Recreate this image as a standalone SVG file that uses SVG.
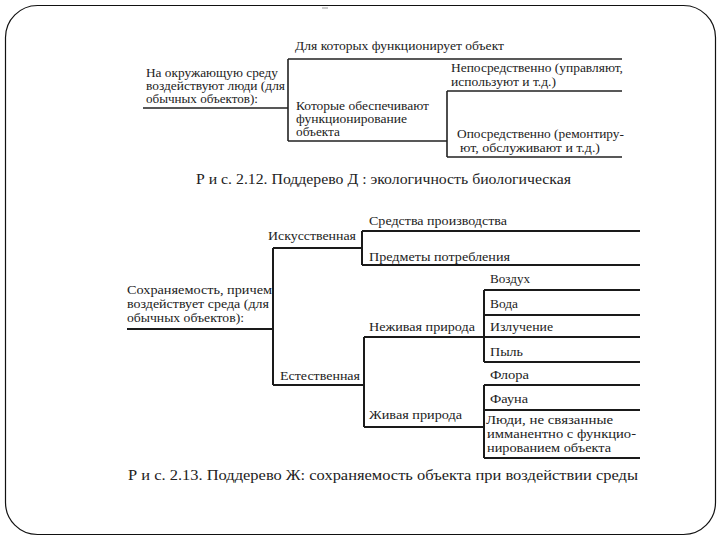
<svg xmlns="http://www.w3.org/2000/svg" width="720" height="540" viewBox="0 0 720 540">
<style>
  text { font-family: "Liberation Serif", "Times New Roman", "DejaVu Serif", serif; fill: #222; }
  .t1 { font-size: 11.5px; }
  .t2 { font-size: 12px; }
  .cap { font-size: 15px; }
  .ln { stroke: #222; stroke-width: 1.6; fill: none; }
  .ln2 { stroke: #1a1a1a; stroke-width: 2; fill: none; }
</style>
<rect x="0" y="0" width="720" height="540" fill="#ffffff"/>
<rect x="5.5" y="5.5" width="710" height="529" rx="32" ry="32" fill="none" stroke="#111" stroke-width="1.2"/>
<line x1="322" y1="8" x2="328" y2="8" stroke="#999" stroke-width="1"/>

<g id="connectors">
  <path class="ln" d="M143,108 H288 M288,59 V141 M288,59 H622 M288,141 H447 M447,91 V157 M447,91 H622 M447,157 H622"/>
  <path class="ln2" d="M127,329 H273 M273,248 V385 M273,248 H362 M273,385 H364 M362,231 V265 M362,231 H640 M362,265 H640 M364,337 V427 M364,337 H484 M364,427 H484 M484,290 V362 M484,290 H640 M484,315 H640 M484,337 H640 M484,362 H640 M484,385 V458 M484,385 H640 M484,410 H640 M484,458 H640"/>
</g>

<g id="node-root1">
  <text class="t1" x="146" y="77" textLength="132" lengthAdjust="spacingAndGlyphs">На окружающую среду</text>
  <text class="t1" x="146" y="90" textLength="139" lengthAdjust="spacingAndGlyphs">воздействуют люди (для</text>
  <text class="t1" x="146" y="103" textLength="112" lengthAdjust="spacingAndGlyphs">обычных объектов):</text>
</g>
<g id="node-dlya">
  <text class="t1" x="295" y="50" textLength="209" lengthAdjust="spacingAndGlyphs">Для которых функционирует объект</text>
</g>
<g id="node-kotorye">
  <text class="t1" x="296" y="110" textLength="133" lengthAdjust="spacingAndGlyphs">Которые обеспечивают</text>
  <text class="t1" x="296" y="123" textLength="111" lengthAdjust="spacingAndGlyphs">функционирование</text>
  <text class="t1" x="296" y="136" textLength="44" lengthAdjust="spacingAndGlyphs">объекта</text>
</g>
<g id="node-neposr">
  <text class="t1" x="451" y="72" textLength="172" lengthAdjust="spacingAndGlyphs">Непосредственно (управляют,</text>
  <text class="t1" x="451" y="86" textLength="105" lengthAdjust="spacingAndGlyphs">используют и т.д.)</text>
</g>
<g id="node-oposr">
  <text class="t1" x="457" y="138" textLength="167" lengthAdjust="spacingAndGlyphs">Опосредственно (ремонтиру-</text>
  <text class="t1" x="460" y="152" textLength="140" lengthAdjust="spacingAndGlyphs">ют, обслуживают и т.д.)</text>
</g>
<g id="caption1">
  <text class="cap" x="196" y="184" textLength="375" lengthAdjust="spacingAndGlyphs">Р и с. 2.12. Поддерево Д : экологичность биологическая</text>
</g>

<g id="node-root2">
  <text class="t2" x="127" y="294" textLength="145" lengthAdjust="spacingAndGlyphs">Сохраняемость, причем</text>
  <text class="t2" x="127" y="308" textLength="142" lengthAdjust="spacingAndGlyphs">воздействует среда (для</text>
  <text class="t2" x="127" y="322" textLength="117" lengthAdjust="spacingAndGlyphs">обычных объектов):</text>
</g>
<g id="node-iskus">
  <text class="t2" x="268" y="240" textLength="88" lengthAdjust="spacingAndGlyphs">Искусственная</text>
</g>
<g id="node-sredstva">
  <text class="t2" x="369" y="225" textLength="138" lengthAdjust="spacingAndGlyphs">Средства производства</text>
</g>
<g id="node-predmety">
  <text class="t2" x="369" y="261" textLength="141" lengthAdjust="spacingAndGlyphs">Предметы потребления</text>
</g>
<g id="node-estest">
  <text class="t2" x="280" y="380" textLength="80" lengthAdjust="spacingAndGlyphs">Естественная</text>
</g>
<g id="node-nezhivaya">
  <text class="t2" x="369" y="331" textLength="106" lengthAdjust="spacingAndGlyphs">Неживая природа</text>
</g>
<g id="node-vozduh">
  <text class="t2" x="490" y="283" textLength="40" lengthAdjust="spacingAndGlyphs">Воздух</text>
</g>
<g id="node-voda">
  <text class="t2" x="490" y="308" textLength="28" lengthAdjust="spacingAndGlyphs">Вода</text>
</g>
<g id="node-izluch">
  <text class="t2" x="490" y="331" textLength="63" lengthAdjust="spacingAndGlyphs">Излучение</text>
</g>
<g id="node-pyl">
  <text class="t2" x="490" y="356" textLength="33" lengthAdjust="spacingAndGlyphs">Пыль</text>
</g>
<g id="node-zhivaya">
  <text class="t2" x="369" y="419" textLength="93" lengthAdjust="spacingAndGlyphs">Живая природа</text>
</g>
<g id="node-flora">
  <text class="t2" x="490" y="379" textLength="39" lengthAdjust="spacingAndGlyphs">Флора</text>
</g>
<g id="node-fauna">
  <text class="t2" x="490" y="403" textLength="38" lengthAdjust="spacingAndGlyphs">Фауна</text>
</g>
<g id="node-lyudi">
  <text class="t2" x="486" y="424" textLength="127" lengthAdjust="spacingAndGlyphs">Люди, не связанные</text>
  <text class="t2" x="487" y="438" textLength="149" lengthAdjust="spacingAndGlyphs">имманентно с функцио-</text>
  <text class="t2" x="487" y="452" textLength="124" lengthAdjust="spacingAndGlyphs">нированием объекта</text>
</g>
<g id="caption2">
  <text class="cap" x="128" y="480" textLength="510" lengthAdjust="spacingAndGlyphs">Р и с. 2.13. Поддерево Ж: сохраняемость объекта при воздействии среды</text>
</g>
</svg>
